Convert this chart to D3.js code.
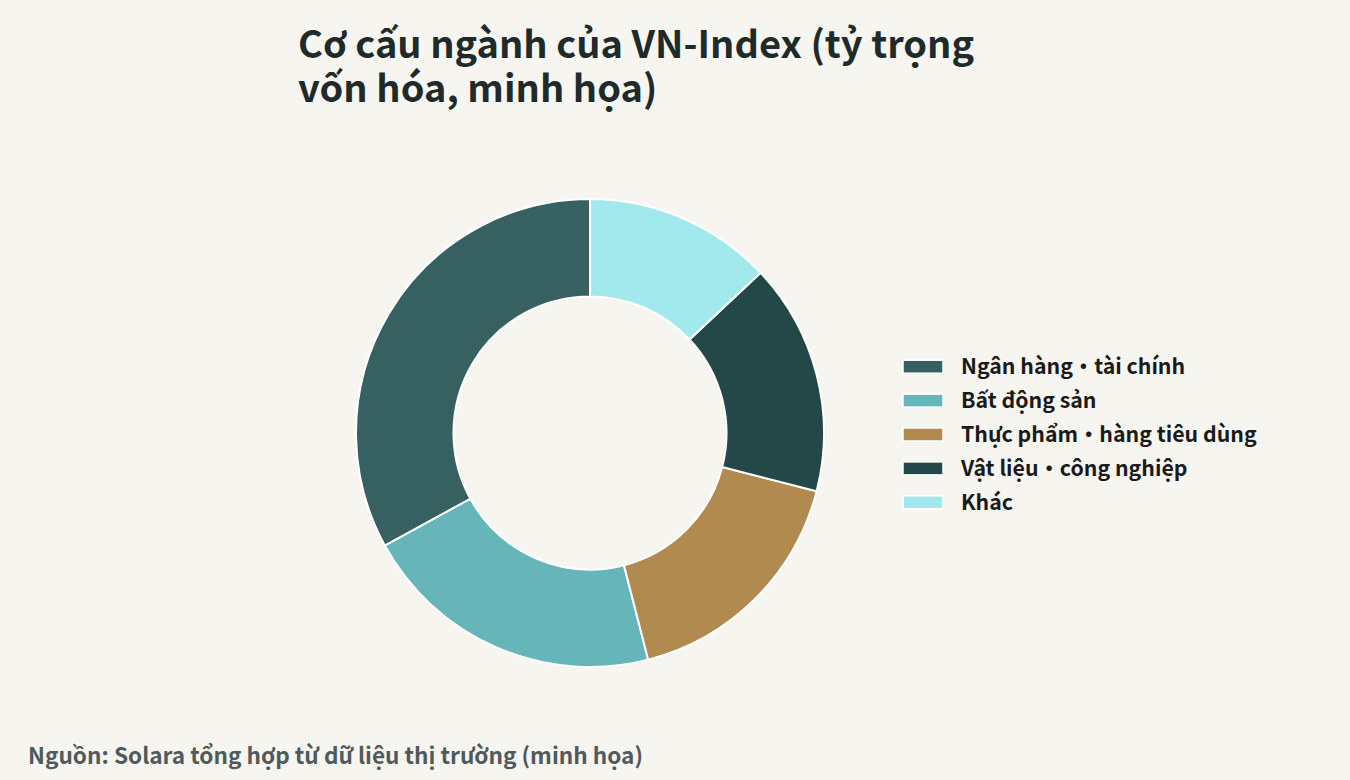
<!DOCTYPE html>
<html>
<head>
<meta charset="utf-8">
<script src="https://cdn.jsdelivr.net/npm/d3@7"></script>
<style>
  html, body { margin: 0; padding: 0; background: #f6f5f0; }
  svg { display: block; }
  text { font-family: "Noto Sans CJK JP", "Noto Sans", sans-serif; }
</style>
</head>
<body>
<svg id="chart" width="1350" height="780"></svg>
<script>
const categories = ["Ngân hàng・tài chính", "Bất động sản", "Thực phẩm・hàng tiêu dùng", "Vật liệu・công nghiệp", "Khác"];
const values = [33, 21, 17, 16, 13];
const colors = ["#376060", "#66b5b9", "#b08a4e", "#244747", "#a2e9ed"];
const titleLines = ["Cơ cấu ngành của VN-Index (tỷ trọng", "vốn hóa, minh họa)"];
const sourceText = "Nguồn: Solara tổng hợp từ dữ liệu thị trường (minh họa)";

const svg = d3.select("#chart");
const W = 1350, H = 780;
svg.append("rect").attr("width", W).attr("height", H).attr("fill", "#f6f5f0");

// Title
const title = svg.append("text")
  .attr("x", 298).attr("y", 58)
  .attr("fill", "#1f2b2b")
  .attr("font-size", 38).attr("font-weight", 700);
titleLines.forEach((t, i) => {
  title.append("tspan").attr("x", 298).attr("y", 58 + i * 44).text(t);
});

// Donut
const cx = 590, cy = 433, R = 234, r = 136.5;
const data = categories.map((c, i) => ({ name: c, value: values[i], color: colors[i] }));
const pie = d3.pie().sort(null).value(d => d.value).startAngle(0).endAngle(-2 * Math.PI);
const arc = d3.arc().innerRadius(r).outerRadius(R);
const color = d3.scaleOrdinal().domain(categories).range(colors);

svg.append("g").attr("transform", `translate(${cx},${cy})`)
  .selectAll("path").data(pie(data)).join("path")
  .attr("d", arc)
  .attr("fill", d => color(d.data.name))
  .attr("stroke", "#ffffff").attr("stroke-width", 2);

// Legend
const legY = d3.scalePoint().domain(categories).range([366.7, 502.3]);
const leg = svg.append("g");
const items = leg.selectAll("g").data(categories).join("g")
  .attr("transform", d => `translate(903,${legY(d)})`);
items.append("rect")
  .attr("x", 0).attr("y", -6.5).attr("width", 40).attr("height", 13)
  .attr("fill", d => color(d)).attr("stroke", "#ffffff").attr("stroke-width", 1.5);
items.append("text")
  .attr("x", 58).attr("y", 0).attr("dy", "0.36em")
  .attr("fill", "#1a1a1a").attr("font-size", 21.3).attr("font-weight", 700)
  .text(d => d);

// Source
svg.append("text")
  .attr("x", 28).attr("y", 764)
  .attr("fill", "#4f5a5a").attr("font-size", 22.6).attr("font-weight", 700)
  .text(sourceText);
</script>
</body>
</html>
